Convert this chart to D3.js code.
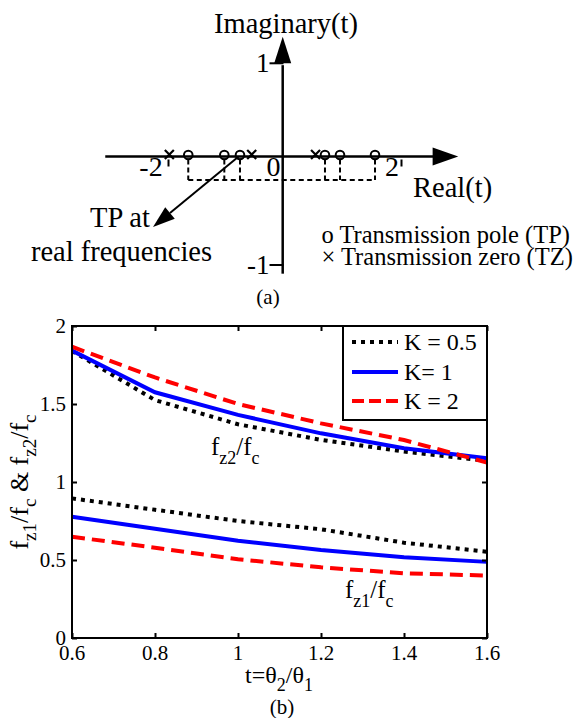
<!DOCTYPE html>
<html><head><meta charset="utf-8">
<script src="https://cdn.jsdelivr.net/npm/d3@7"></script>
<style>html,body{margin:0;padding:0;background:#fff}svg{display:block}text,tspan{font-family:"Liberation Serif","Times New Roman",serif;fill:#000}</style>
</head><body><svg id="c" width="577" height="718" font-family="Liberation Serif"></svg>
<script>
// ---------- data: pole-zero diagram (a) ----------
const zerosA = [-1.96, -0.546, 0.55];
const polesA = [-1.635, -1.016, -0.747, 0.712, 0.97, 1.571];
const realTicks = [-2, 0, 2];
const imagTicks = [-1, 1];
// ---------- data: chart (b) ----------
const tVals = [0.6, 0.8, 1.0, 1.2, 1.4, 1.6];
const fz2_K05 = [1.84, 1.525, 1.37, 1.27, 1.195, 1.135];
const fz2_K1  = [1.842, 1.575, 1.43, 1.312, 1.216, 1.152];
const fz2_K2  = [1.867, 1.67, 1.50, 1.376, 1.269, 1.125];
const fz1_K05 = [0.895, 0.822, 0.75, 0.697, 0.611, 0.553];
const fz1_K1  = [0.777, 0.70, 0.623, 0.564, 0.517, 0.488];
const fz1_K2  = [0.649, 0.579, 0.505, 0.453, 0.415, 0.40];
const xTicks = [0.6, 0.8, 1, 1.2, 1.4, 1.6];
const yTicks = [0, 0.5, 1, 1.5, 2];
const legendLabels = ["K = 0.5", "K= 1", "K = 2"];

const svg = d3.select("#c");

// ================= (a) =================
const xA = d3.scaleLinear().domain([-2, 2]).range([167, 400]);
const yA = d3.scaleLinear().domain([-1, 0, 1]).range([265, 156.5, 63.3]);
const gA = svg.append("g");
gA.append("line").attr("x1", xA(-3.06)).attr("x2", xA(2.6)).attr("y1", yA(0)).attr("y2", yA(0))
  .attr("stroke", "#000").attr("stroke-width", 2.5);
gA.append("path").attr("d", `M${xA(2.56)},${yA(0)-9}L${xA(3.0)},${yA(0)}L${xA(2.56)},${yA(0)+9}Z`).attr("fill", "#000");
gA.append("line").attr("x1", xA(0)-0.8).attr("x2", xA(0)-0.8).attr("y1", yA(-1.08)).attr("y2", yA(0.98))
  .attr("stroke", "#000").attr("stroke-width", 2.5);
gA.append("path").attr("d", `M${xA(0)-9.3},${yA(1)}L${xA(0)-0.8},${yA(1.285)}L${xA(0)+7.7},${yA(1)}Z`).attr("fill", "#000");
realTicks.filter(d => d !== 0).forEach(d => {
  gA.append("line").attr("x1", xA(d) + 1.5).attr("x2", xA(d) + 1.5).attr("y1", yA(0) + 3).attr("y2", yA(0) + 10)
    .attr("stroke", "#000").attr("stroke-width", 2);
});
realTicks.forEach(d => {
  gA.append("text").attr("x", d === 0 ? xA(d) - 10 : (d < 0 ? xA(d) - 16 : xA(d) - 8)).attr("y", 176)
    .attr("text-anchor", "middle").attr("font-size", 28).text(d < 0 ? "-" + Math.abs(d) : d);
});
imagTicks.forEach(d => {
  gA.append("line").attr("x1", xA(0) - 14).attr("x2", xA(0)).attr("y1", yA(d)).attr("y2", yA(d))
    .attr("stroke", "#000").attr("stroke-width", 2);
  gA.append("text").attr("x", xA(0) - 14).attr("y", yA(d) + 9).attr("text-anchor", "end")
    .attr("font-size", 27).text(d < 0 ? "-1" : "1");
});
const dashY = 180;
gA.append("line").attr("x1", xA(polesA[0])).attr("x2", xA(polesA[polesA.length - 1]))
  .attr("y1", dashY).attr("y2", dashY).attr("stroke", "#000").attr("stroke-width", 2).attr("stroke-dasharray", "5,3.5");
polesA.forEach(p => {
  gA.append("line").attr("x1", xA(p)).attr("x2", xA(p)).attr("y1", yA(0) + 2).attr("y2", yA(0) + 8)
    .attr("stroke", "#000").attr("stroke-width", 2);
  gA.append("line").attr("x1", xA(p)).attr("x2", xA(p)).attr("y1", yA(0) + 11).attr("y2", dashY)
    .attr("stroke", "#000").attr("stroke-width", 2).attr("stroke-dasharray", "5,3");
  gA.append("circle").attr("cx", xA(p)).attr("cy", yA(0) - 1.5).attr("r", 4.3)
    .attr("fill", "none").attr("stroke", "#000").attr("stroke-width", 2);
});
zerosA.forEach(z => {
  const cx = xA(z), cy = yA(0) - 2, s = 4.5;
  gA.append("path").attr("d", `M${cx-s},${cy-s}L${cx+s},${cy+s}M${cx-s},${cy+s}L${cx+s},${cy-s}`)
    .attr("stroke", "#000").attr("stroke-width", 2.2).attr("fill", "none");
});
const arrowFrom = [-0.77, 0], arrowTo = [-2.24, -0.65];
const ax1 = xA(arrowFrom[0]), ay1 = yA(arrowFrom[1]), ax2 = xA(arrowTo[0]), ay2 = yA(arrowTo[1]);
const ang = Math.atan2(ay2 - ay1, ax2 - ax1), L = 22, W = 7.5;
const bx = ax2 - L * Math.cos(ang), by = ay2 - L * Math.sin(ang);
gA.append("line").attr("x1", ax1).attr("y1", ay1).attr("x2", bx).attr("y2", by).attr("stroke", "#000").attr("stroke-width", 2);
gA.append("path").attr("d", `M${ax2},${ay2}L${bx + W*Math.sin(ang)},${by - W*Math.cos(ang)}L${bx - W*Math.sin(ang)},${by + W*Math.cos(ang)}Z`).attr("fill", "#000");
gA.append("text").attr("x", 286).attr("y", 33).attr("text-anchor", "middle").attr("font-size", 28.5).text("Imaginary(t)");
gA.append("text").attr("x", 413).attr("y", 196.5).attr("font-size", 28.5).text("Real(t)");
gA.append("text").attr("x", 120).attr("y", 227).attr("text-anchor", "middle").attr("font-size", 28.5).text("TP at");
gA.append("text").attr("x", 121.5).attr("y", 261).attr("text-anchor", "middle").attr("font-size", 28.5).text("real frequencies");
gA.append("text").attr("x", 321.5).attr("y", 243).attr("font-size", 24.5).text("o Transmission pole (TP)");
gA.append("text").attr("x", 321.5).attr("y", 265).attr("font-size", 24.5).text("× Transmission zero (TZ)");
svg.append("text").attr("x", 268).attr("y", 304).attr("text-anchor", "middle").attr("font-size", 21).text("(a)");

// ================= (b) =================
const x = d3.scaleLinear().domain([0.6, 1.6]).range([72, 487]);
const y = d3.scaleLinear().domain([0, 2]).range([638, 326]);
const gB = svg.append("g");

const series = [
  { v: fz2_K05, color: "#000", dash: "4,5" },
  { v: fz2_K1, color: "#0000ff", dash: null },
  { v: fz2_K2, color: "#ff0000", dash: "13,7" },
  { v: fz1_K05, color: "#000", dash: "4,5" },
  { v: fz1_K1, color: "#0000ff", dash: null },
  { v: fz1_K2, color: "#ff0000", dash: "13,7" }
];
const line = d3.line().x((d, i) => x(tVals[i])).y(d => y(d));
series.forEach(s => {
  gB.append("path").attr("d", line(s.v)).attr("fill", "none").attr("stroke", s.color)
    .attr("stroke-width", 4).attr("stroke-dasharray", s.dash);
});

gB.append("rect").attr("x", x(0.6)).attr("y", y(2)).attr("width", x(1.6) - x(0.6)).attr("height", y(0) - y(2))
  .attr("fill", "none").attr("stroke", "#000").attr("stroke-width", 2);
gB.append("g").attr("transform", `translate(0,${y(0)})`).call(d3.axisBottom(x).tickValues(xTicks).tickSize(-5).tickFormat(""))
  .call(g => g.select(".domain").remove()).selectAll("line").attr("stroke-width", 2);
gB.append("g").attr("transform", `translate(0,${y(2)})`).call(d3.axisTop(x).tickValues(xTicks).tickSize(-5).tickFormat(""))
  .call(g => g.select(".domain").remove()).selectAll("line").attr("stroke-width", 2);
gB.append("g").attr("transform", `translate(${x(0.6)},0)`).call(d3.axisLeft(y).tickValues(yTicks).tickSize(-5).tickFormat(""))
  .call(g => g.select(".domain").remove()).selectAll("line").attr("stroke-width", 2);
gB.append("g").attr("transform", `translate(${x(1.6)},0)`).call(d3.axisRight(y).tickValues(yTicks).tickSize(-5).tickFormat(""))
  .call(g => g.select(".domain").remove()).selectAll("line").attr("stroke-width", 2);

xTicks.forEach(t => {
  gB.append("text").attr("x", x(t)).attr("y", 660).attr("text-anchor", "middle").attr("font-size", 21).text(t);
});
yTicks.forEach(v => {
  gB.append("text").attr("x", x(0.6) - 6).attr("y", y(v) + 7).attr("text-anchor", "end").attr("font-size", 21).text(v);
});

// text with subscripts: shift applied on the tspans themselves
function subText(sel, parts, size, subSize, drop) {
  let cur = 0;
  parts.forEach(p => {
    const target = p.sub ? drop : 0;
    sel.append("tspan").attr("font-size", p.sub ? subSize : size).attr("dy", target - cur).text(p.t);
    cur = target;
  });
}
const yl = gB.append("text").attr("transform", `translate(28,${y(1)}) rotate(-90)`).attr("text-anchor", "middle").attr("font-size", 26);
subText(yl, [{t:"f"},{t:"z1",sub:1},{t:"/f"},{t:"c",sub:1},{t:" & f"},{t:"z2",sub:1},{t:"/f"},{t:"c",sub:1}], 26, 19, 8);
const xl = gB.append("text").attr("x", 279).attr("y", 683).attr("text-anchor", "middle").attr("font-size", 24);
subText(xl, [{t:"t=θ"},{t:"2",sub:1},{t:"/θ"},{t:"1",sub:1}], 24, 18, 8);
const a2 = gB.append("text").attr("x", 211).attr("y", 455).attr("font-size", 25);
subText(a2, [{t:"f"},{t:"z2",sub:1},{t:"/f"},{t:"c",sub:1}], 25, 18, 9);
const a1 = gB.append("text").attr("x", 345).attr("y", 598).attr("font-size", 25);
subText(a1, [{t:"f"},{t:"z1",sub:1},{t:"/f"},{t:"c",sub:1}], 25, 18, 9);

const lg = gB.append("g");
lg.append("rect").attr("x", 343).attr("y", y(2)).attr("width", x(1.6) - 343).attr("height", 94)
  .attr("fill", "#fff").attr("stroke", "#000").attr("stroke-width", 2);
const legRows = [342, 372, 401];
series.slice(0, 3).forEach((s, i) => {
  lg.append("line").attr("x1", 352).attr("x2", 398).attr("y1", legRows[i]).attr("y2", legRows[i])
    .attr("stroke", s.color).attr("stroke-width", 4).attr("stroke-dasharray", i === 2 ? "12,5" : s.dash);
  lg.append("text").attr("x", 404).attr("y", legRows[i] + 8).attr("font-size", 24).text(legendLabels[i]);
});

svg.append("text").attr("x", 282).attr("y", 714).attr("text-anchor", "middle").attr("font-size", 21).text("(b)");
</script></body></html>
